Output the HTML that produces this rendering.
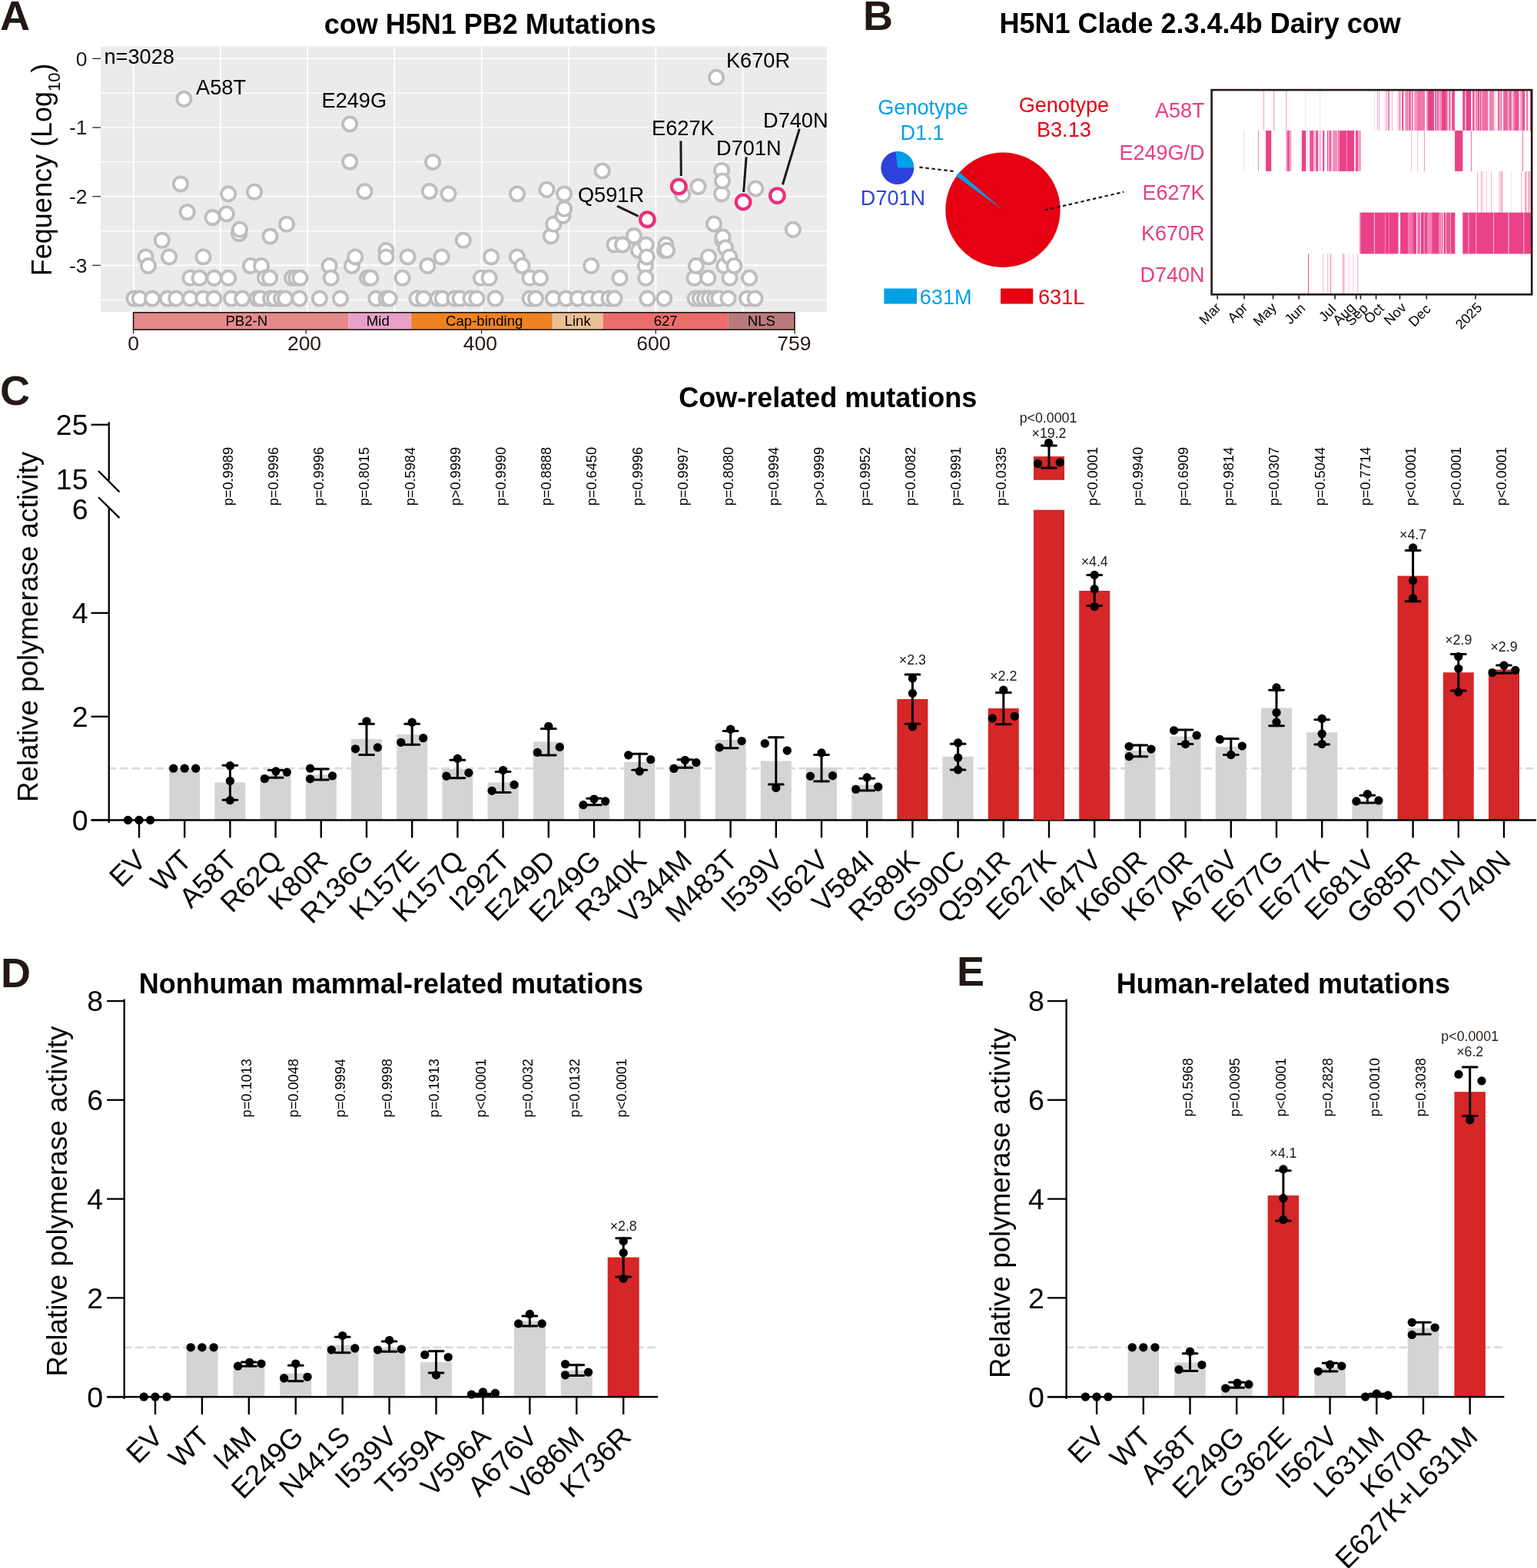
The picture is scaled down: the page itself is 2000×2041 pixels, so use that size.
<!DOCTYPE html>
<html><head><meta charset="utf-8"><title>Figure</title><style>
html,body{margin:0;padding:0;background:#fff;overflow:hidden;}
svg{display:block;}
text{font-family:"Liberation Sans",Arial,sans-serif;}
.lab{font-size:54px;font-weight:bold;fill:#231815;}
.ttl{font-size:36px;font-weight:bold;fill:#000;}
.tk{font-size:26.5px;fill:#231815;}
.yt{font-size:36.8px;fill:#000;}
.yta{font-size:36px;fill:#000;}
.al{font-size:27.2px;fill:#000;}
.tkx{font-size:26.5px;fill:#231815;}
.dm{font-size:18.6px;fill:#000;}
.pl{font-size:27.1px;}
.hl{font-size:27px;fill:#e83e82;}
.mt{font-size:18px;fill:#000;}
.yl{font-size:37.5px;fill:#000;}
.xl{font-size:36.6px;fill:#000;}
.mx{font-size:17.8px;fill:#231815;}
.pv{font-size:18.2px;fill:#000;}
</style></head>
<body><svg width="2000" height="2041" viewBox="0 0 2000 2041">
<rect width="2000" height="2041" fill="#fff"/>
<text x="0" y="38.9" class="lab">A</text>
<text x="637.7" y="43.5" class="ttl" text-anchor="middle">cow H5N1 PB2 Mutations</text>
<rect x="131" y="60.4" width="945.1" height="345.6" fill="#ebebeb"/>
<line x1="173.6" y1="60.4" x2="173.6" y2="406" stroke="#fff" stroke-width="1.7"/>
<line x1="286.87" y1="60.4" x2="286.87" y2="406" stroke="#fff" stroke-width="1.7"/>
<line x1="400.14" y1="60.4" x2="400.14" y2="406" stroke="#fff" stroke-width="1.7"/>
<line x1="513.41" y1="60.4" x2="513.41" y2="406" stroke="#fff" stroke-width="1.7"/>
<line x1="626.68" y1="60.4" x2="626.68" y2="406" stroke="#fff" stroke-width="1.7"/>
<line x1="739.95" y1="60.4" x2="739.95" y2="406" stroke="#fff" stroke-width="1.7"/>
<line x1="853.22" y1="60.4" x2="853.22" y2="406" stroke="#fff" stroke-width="1.7"/>
<line x1="966.49" y1="60.4" x2="966.49" y2="406" stroke="#fff" stroke-width="1.7"/>
<line x1="131" y1="76.3" x2="1076.1" y2="76.3" stroke="#fff" stroke-width="1.7"/>
<line x1="131" y1="166.0" x2="1076.1" y2="166.0" stroke="#fff" stroke-width="1.7"/>
<line x1="131" y1="255.7" x2="1076.1" y2="255.7" stroke="#fff" stroke-width="1.7"/>
<line x1="131" y1="345.4" x2="1076.1" y2="345.4" stroke="#fff" stroke-width="1.7"/>
<line x1="131" y1="121.2" x2="1076.1" y2="121.2" stroke="#fff" stroke-width="1.2"/>
<line x1="131" y1="210.9" x2="1076.1" y2="210.9" stroke="#fff" stroke-width="1.2"/>
<line x1="131" y1="300.6" x2="1076.1" y2="300.6" stroke="#fff" stroke-width="1.2"/>
<line x1="131" y1="390.3" x2="1076.1" y2="390.3" stroke="#fff" stroke-width="1.2"/>
<line x1="120.3" y1="76.3" x2="131" y2="76.3" stroke="#333" stroke-width="1.4"/>
<text x="113.5" y="85.6" class="tk" text-anchor="end">0</text>
<line x1="120.3" y1="166.0" x2="131" y2="166.0" stroke="#333" stroke-width="1.4"/>
<text x="113.5" y="175.3" class="tk" text-anchor="end">-1</text>
<line x1="120.3" y1="255.7" x2="131" y2="255.7" stroke="#333" stroke-width="1.4"/>
<text x="113.5" y="265" class="tk" text-anchor="end">-2</text>
<line x1="120.3" y1="345.4" x2="131" y2="345.4" stroke="#333" stroke-width="1.4"/>
<text x="113.5" y="354.7" class="tk" text-anchor="end">-3</text>
<text transform="translate(66.5,359.2) rotate(-90)" class="yta">Fequency (Log<tspan font-size="22" dy="11">10</tspan><tspan dy="-11">)</tspan></text>
<text x="135.5" y="82.7" class="al">n=3028</text>
<g fill="#fff" stroke="#bebebe" stroke-width="3.8">
<circle cx="174.5" cy="388.6" r="9.1"/>
<circle cx="181.7" cy="388.6" r="9.1"/>
<circle cx="189.5" cy="334.4" r="9.1"/>
<circle cx="193" cy="346" r="9.1"/>
<circle cx="198.1" cy="388.6" r="9.1"/>
<circle cx="210.8" cy="312.8" r="9.1"/>
<circle cx="217.9" cy="388.6" r="9.1"/>
<circle cx="220.1" cy="334.4" r="9.1"/>
<circle cx="229.2" cy="388.6" r="9.1"/>
<circle cx="235" cy="239.4" r="9.1"/>
<circle cx="239.4" cy="128.8" r="9.1"/>
<circle cx="243.7" cy="276.1" r="9.1"/>
<circle cx="247.4" cy="388.6" r="9.1"/>
<circle cx="247.5" cy="361.8" r="9.1"/>
<circle cx="259.6" cy="361.8" r="9.1"/>
<circle cx="264.3" cy="388.6" r="9.1"/>
<circle cx="264.4" cy="334.4" r="9.1"/>
<circle cx="276.6" cy="283.1" r="9.1"/>
<circle cx="278.5" cy="388.6" r="9.1"/>
<circle cx="278.7" cy="361.8" r="9.1"/>
<circle cx="294.8" cy="278.4" r="9.1"/>
<circle cx="297.1" cy="252.5" r="9.1"/>
<circle cx="297.1" cy="361.8" r="9.1"/>
<circle cx="301.1" cy="388.6" r="9.1"/>
<circle cx="311.1" cy="304.1" r="9.1"/>
<circle cx="312" cy="298.8" r="9.1"/>
<circle cx="315.3" cy="388.6" r="9.1"/>
<circle cx="326" cy="346" r="9.1"/>
<circle cx="331" cy="249.8" r="9.1"/>
<circle cx="334.5" cy="388.6" r="9.1"/>
<circle cx="338.9" cy="388.6" r="9.1"/>
<circle cx="340.1" cy="346" r="9.1"/>
<circle cx="345" cy="361.8" r="9.1"/>
<circle cx="351.1" cy="361.8" r="9.1"/>
<circle cx="351.5" cy="307.6" r="9.1"/>
<circle cx="352" cy="388.6" r="9.1"/>
<circle cx="357.2" cy="388.6" r="9.1"/>
<circle cx="366" cy="388.6" r="9.1"/>
<circle cx="371.2" cy="388.6" r="9.1"/>
<circle cx="373" cy="291.8" r="9.1"/>
<circle cx="380" cy="361.8" r="9.1"/>
<circle cx="385.2" cy="361.8" r="9.1"/>
<circle cx="389.6" cy="388.6" r="9.1"/>
<circle cx="390.5" cy="361.8" r="9.1"/>
<circle cx="415.9" cy="388.6" r="9.1"/>
<circle cx="428.6" cy="346" r="9.1"/>
<circle cx="430.7" cy="361.8" r="9.1"/>
<circle cx="443" cy="388.6" r="9.1"/>
<circle cx="455.2" cy="161.5" r="9.1"/>
<circle cx="455.2" cy="210.6" r="9.1"/>
<circle cx="457.9" cy="346" r="9.1"/>
<circle cx="462.2" cy="334.4" r="9.1"/>
<circle cx="474.5" cy="249.2" r="9.1"/>
<circle cx="478" cy="361.8" r="9.1"/>
<circle cx="482.4" cy="361.8" r="9.1"/>
<circle cx="489.4" cy="388.6" r="9.1"/>
<circle cx="502.5" cy="326" r="9.1"/>
<circle cx="502.5" cy="334.4" r="9.1"/>
<circle cx="502.5" cy="388.6" r="9.1"/>
<circle cx="506.6" cy="388.6" r="9.1"/>
<circle cx="523.6" cy="361.8" r="9.1"/>
<circle cx="530.5" cy="334.4" r="9.1"/>
<circle cx="542.5" cy="388.6" r="9.1"/>
<circle cx="551.2" cy="388.6" r="9.1"/>
<circle cx="556.4" cy="346" r="9.1"/>
<circle cx="558.8" cy="249.1" r="9.1"/>
<circle cx="563.1" cy="210.9" r="9.1"/>
<circle cx="569.6" cy="388.6" r="9.1"/>
<circle cx="574.6" cy="334.4" r="9.1"/>
<circle cx="575.7" cy="388.6" r="9.1"/>
<circle cx="583.5" cy="252.4" r="9.1"/>
<circle cx="591.5" cy="388.6" r="9.1"/>
<circle cx="598.5" cy="388.6" r="9.1"/>
<circle cx="602.9" cy="312.8" r="9.1"/>
<circle cx="612.5" cy="388.6" r="9.1"/>
<circle cx="620.4" cy="388.6" r="9.1"/>
<circle cx="625.9" cy="361.8" r="9.1"/>
<circle cx="636.6" cy="361.8" r="9.1"/>
<circle cx="639.1" cy="334.4" r="9.1"/>
<circle cx="644.5" cy="388.6" r="9.1"/>
<circle cx="672.9" cy="334.4" r="9.1"/>
<circle cx="673" cy="252.4" r="9.1"/>
<circle cx="679.5" cy="346" r="9.1"/>
<circle cx="689.5" cy="361.8" r="9.1"/>
<circle cx="689.5" cy="388.6" r="9.1"/>
<circle cx="697.1" cy="388.6" r="9.1"/>
<circle cx="703" cy="361.8" r="9.1"/>
<circle cx="711.5" cy="246.8" r="9.1"/>
<circle cx="716.9" cy="307.4" r="9.1"/>
<circle cx="719.9" cy="388.6" r="9.1"/>
<circle cx="720.3" cy="291.7" r="9.1"/>
<circle cx="732.4" cy="280.9" r="9.1"/>
<circle cx="734.2" cy="252.4" r="9.1"/>
<circle cx="734.2" cy="271.8" r="9.1"/>
<circle cx="736.5" cy="388.6" r="9.1"/>
<circle cx="751.9" cy="388.6" r="9.1"/>
<circle cx="766.8" cy="388.6" r="9.1"/>
<circle cx="769.2" cy="346" r="9.1"/>
<circle cx="779.4" cy="388.6" r="9.1"/>
<circle cx="783.7" cy="222.5" r="9.1"/>
<circle cx="792.5" cy="388.6" r="9.1"/>
<circle cx="799.5" cy="318.6" r="9.1"/>
<circle cx="799.5" cy="388.6" r="9.1"/>
<circle cx="806.5" cy="361.8" r="9.1"/>
<circle cx="810" cy="318.6" r="9.1"/>
<circle cx="824.9" cy="307.1" r="9.1"/>
<circle cx="831" cy="326" r="9.1"/>
<circle cx="839.7" cy="346" r="9.1"/>
<circle cx="840.3" cy="361.8" r="9.1"/>
<circle cx="840.6" cy="318.6" r="9.1"/>
<circle cx="841.7" cy="334.4" r="9.1"/>
<circle cx="842.4" cy="388.6" r="9.1"/>
<circle cx="864.2" cy="388.6" r="9.1"/>
<circle cx="865.1" cy="326" r="9.1"/>
<circle cx="866.5" cy="318.6" r="9.1"/>
<circle cx="867.9" cy="326" r="9.1"/>
<circle cx="888" cy="253.4" r="9.1"/>
<circle cx="903.5" cy="361.8" r="9.1"/>
<circle cx="904.6" cy="388.6" r="9.1"/>
<circle cx="905.8" cy="346" r="9.1"/>
<circle cx="908.5" cy="242.9" r="9.1"/>
<circle cx="910.8" cy="388.6" r="9.1"/>
<circle cx="916.9" cy="388.6" r="9.1"/>
<circle cx="921.3" cy="361.8" r="9.1"/>
<circle cx="922.1" cy="334.4" r="9.1"/>
<circle cx="923" cy="388.6" r="9.1"/>
<circle cx="929" cy="291.5" r="9.1"/>
<circle cx="930" cy="388.6" r="9.1"/>
<circle cx="932.1" cy="100.8" r="9.1"/>
<circle cx="935.3" cy="388.6" r="9.1"/>
<circle cx="939.1" cy="221.9" r="9.1"/>
<circle cx="939.1" cy="252.4" r="9.1"/>
<circle cx="940" cy="235.5" r="9.1"/>
<circle cx="940.3" cy="312.9" r="9.1"/>
<circle cx="940.5" cy="308.5" r="9.1"/>
<circle cx="942.3" cy="346" r="9.1"/>
<circle cx="944" cy="322.5" r="9.1"/>
<circle cx="947.5" cy="388.6" r="9.1"/>
<circle cx="949.3" cy="334.4" r="9.1"/>
<circle cx="949.5" cy="361.8" r="9.1"/>
<circle cx="955.4" cy="346" r="9.1"/>
<circle cx="972" cy="388.6" r="9.1"/>
<circle cx="975.1" cy="361.8" r="9.1"/>
<circle cx="982.5" cy="388.6" r="9.1"/>
<circle cx="983.3" cy="245.5" r="9.1"/>
<circle cx="1031.9" cy="298.8" r="9.1"/>
</g>
<g stroke="#231815" stroke-width="3">
<line x1="803" y1="268.2" x2="830.6" y2="281.3"/>
<line x1="885.9" y1="183.4" x2="886.3" y2="229"/>
<line x1="971.1" y1="204.4" x2="967.6" y2="250"/>
<line x1="1040.3" y1="167.6" x2="1018.4" y2="240.3"/>
</g>
<g fill="#fff" stroke="#e8307c" stroke-width="4.3">
<circle cx="842.4" cy="285.7" r="9.3"/>
<circle cx="883.3" cy="242.9" r="9.3"/>
<circle cx="967.1" cy="263" r="9.3"/>
<circle cx="1011.4" cy="254.6" r="9.3"/>
</g>
<text x="255.1" y="122.6" class="al">A58T</text>
<text x="418.5" y="140.1" class="al">E249G</text>
<text x="751.9" y="263" class="al">Q591R</text>
<text x="848.1" y="176.4" class="al">E627K</text>
<text x="932.1" y="201.8" class="al">D701N</text>
<text x="993" y="165.9" class="al">D740N</text>
<text x="944.9" y="88" class="al">K670R</text>
<rect x="173.6" y="406.8" width="279.97" height="22.3" fill="#e58a8a"/>
<text x="320.8" y="424.4" class="dm" text-anchor="middle">PB2-N</text>
<rect x="453.57" y="406.8" width="81.61" height="22.3" fill="#e8a0c8"/>
<text x="491.8" y="424.4" class="dm" text-anchor="middle">Mid</text>
<rect x="535.19" y="406.8" width="183.63" height="22.3" fill="#ef8220"/>
<text x="630.2" y="424.4" class="dm" text-anchor="middle">Cap-binding</text>
<rect x="718.81" y="406.8" width="65.74" height="22.3" fill="#ebbf94"/>
<text x="751.68" y="424.4" class="dm" text-anchor="middle">Link</text>
<rect x="784.56" y="406.8" width="163.22" height="22.3" fill="#ea6d6d"/>
<text x="866.17" y="424.4" class="dm" text-anchor="middle">627</text>
<rect x="947.78" y="406.8" width="86.15" height="22.3" fill="#b87a7c"/>
<text x="990.85" y="424.4" class="dm" text-anchor="middle">NLS</text>
<rect x="173.6" y="406.8" width="860.33" height="22.3" fill="none" stroke="#231815" stroke-width="1.6"/>
<line x1="173.6" y1="429" x2="173.6" y2="434.5" stroke="#333" stroke-width="1.4"/>
<text x="173.6" y="455.9" class="tkx" text-anchor="middle">0</text>
<line x1="398.2" y1="429" x2="398.2" y2="434.5" stroke="#333" stroke-width="1.4"/>
<text x="396" y="455.9" class="tkx" text-anchor="middle">200</text>
<line x1="626.6" y1="429" x2="626.6" y2="434.5" stroke="#333" stroke-width="1.4"/>
<text x="624.9" y="455.9" class="tkx" text-anchor="middle">400</text>
<line x1="853.2" y1="429" x2="853.2" y2="434.5" stroke="#333" stroke-width="1.4"/>
<text x="850.4" y="455.9" class="tkx" text-anchor="middle">600</text>
<line x1="1034.2" y1="429" x2="1034.2" y2="434.5" stroke="#333" stroke-width="1.4"/>
<text x="1033.3" y="455.9" class="tkx" text-anchor="middle">759</text>
<text x="1123" y="38.9" class="lab">B</text>
<text x="1561.6" y="43.4" class="ttl" text-anchor="middle">H5N1 Clade 2.3.4.4b Dairy cow</text>
<circle cx="1305" cy="273.3" r="74.7" fill="#e60012"/>
<path d="M1304.5,273 L1244.07,229.09 A74.7,74.7 0 0 1 1248.12,223.99 Z" fill="#00a0e9"/>
<circle cx="1167.8" cy="218.6" r="21.5" fill="#2e41dc"/>
<path d="M1167.8,218.6 L1165.55,197.22 A21.5,21.5 0 0 1 1189.3,218.6 Z" fill="#00a0e9"/>
<g stroke="#231815" stroke-width="2.2" stroke-dasharray="4.5,3.5" fill="none">
<line x1="1196.4" y1="217.6" x2="1242.1" y2="223.1"/>
<line x1="1359.5" y1="273.5" x2="1462.4" y2="249.8"/>
</g>
<g class="pl">
<text x="1201" y="148.6" text-anchor="middle" fill="#00a0e9">Genotype</text>
<text x="1200" y="181.7" text-anchor="middle" fill="#00a0e9">D1.1</text>
<text x="1384.4" y="145.9" text-anchor="middle" fill="#e60012">Genotype</text>
<text x="1384.4" y="177.7" text-anchor="middle" fill="#e60012">B3.13</text>
<text x="1162" y="266.8" text-anchor="middle" fill="#2e41dc">D701N</text>
<rect x="1150.4" y="375.5" width="42.6" height="20" fill="#00a0e9"/>
<text x="1196.8" y="395.5" fill="#00a0e9">631M</text>
<rect x="1302" y="375.5" width="42.2" height="20" fill="#e60012"/>
<text x="1351" y="395.5" fill="#e60012">631L</text>
</g>
<rect x="1644.1" y="116.2" width="0.95" height="53.7" fill="#f4a0c4"/>
<rect x="1657.2" y="116.2" width="0.95" height="53.7" fill="#f28db8"/>
<rect x="1673.3" y="116.2" width="0.95" height="53.7" fill="#f28db8"/>
<rect x="1698.4" y="116.2" width="0.85" height="53.7" fill="#fbd9e7"/>
<rect x="1717.4" y="116.2" width="0.85" height="53.7" fill="#fbd9e7"/>
<rect x="1788.2" y="116.2" width="0.95" height="53.7" fill="#fbd9e7"/>
<rect x="1792.1" y="116.2" width="0.95" height="53.7" fill="#f4a0c4"/>
<rect x="1794.3" y="116.2" width="0.95" height="53.7" fill="#f4a0c4"/>
<rect x="1802.1" y="116.2" width="0.95" height="53.7" fill="#f9c6dc"/>
<rect x="1804" y="116.2" width="0.95" height="53.7" fill="#f28db8"/>
<rect x="1806.4" y="116.2" width="1.45" height="53.7" fill="#ec5495"/>
<rect x="1811.2" y="116.2" width="0.95" height="53.7" fill="#f7b3d0"/>
<rect x="1819.1" y="116.2" width="0.95" height="53.7" fill="#f4a0c4"/>
<rect x="1821.1" y="116.2" width="1.05" height="53.7" fill="#ea4189"/>
<rect x="1824" y="116.2" width="2.35" height="53.7" fill="#ec5495"/>
<rect x="1828.2" y="116.2" width="3.15" height="53.7" fill="#f396be"/>
<rect x="1831" y="116.2" width="1.35" height="53.7" fill="#ee67a1"/>
<rect x="1833" y="116.2" width="3.15" height="53.7" fill="#ee67a1"/>
<rect x="1837" y="116.2" width="1.65" height="53.7" fill="#ee67a1"/>
<rect x="1840.2" y="116.2" width="3.85" height="53.7" fill="#f396be"/>
<rect x="1843.7" y="116.2" width="2.85" height="53.7" fill="#f184b2"/>
<rect x="1846.2" y="116.2" width="0.95" height="53.7" fill="#ea4189"/>
<rect x="1846.8" y="116.2" width="7.25" height="53.7" fill="#f07aac"/>
<rect x="1856.3" y="116.2" width="2.15" height="53.7" fill="#f28db8"/>
<rect x="1858.1" y="116.2" width="7.95" height="53.7" fill="#ea4189"/>
<rect x="1867.3" y="116.2" width="1.95" height="53.7" fill="#ea4189"/>
<rect x="1870.1" y="116.2" width="2.25" height="53.7" fill="#ec5495"/>
<rect x="1873" y="116.2" width="3.45" height="53.7" fill="#f28db8"/>
<rect x="1876.1" y="116.2" width="5.75" height="53.7" fill="#ea4189"/>
<rect x="1881.5" y="116.2" width="2.25" height="53.7" fill="#ee67a1"/>
<rect x="1885.3" y="116.2" width="2.15" height="53.7" fill="#ec5495"/>
<rect x="1889" y="116.2" width="4.15" height="53.7" fill="#ec5495"/>
<rect x="1903.3" y="116.2" width="3.15" height="53.7" fill="#ea4189"/>
<rect x="1906.1" y="116.2" width="2.15" height="53.7" fill="#f7b3d0"/>
<rect x="1907.9" y="116.2" width="6.25" height="53.7" fill="#ea4189"/>
<rect x="1916" y="116.2" width="2.45" height="53.7" fill="#ec5495"/>
<rect x="1918.1" y="116.2" width="2.25" height="53.7" fill="#f7b3d0"/>
<rect x="1920.9" y="116.2" width="1.55" height="53.7" fill="#ec5495"/>
<rect x="1923" y="116.2" width="2.25" height="53.7" fill="#ec5495"/>
<rect x="1925.8" y="116.2" width="1.65" height="53.7" fill="#ea4189"/>
<rect x="1928.3" y="116.2" width="8.05" height="53.7" fill="#ef70a6"/>
<rect x="1937.9" y="116.2" width="6.15" height="53.7" fill="#f184b2"/>
<rect x="1944.4" y="116.2" width="1.85" height="53.7" fill="#fbd9e7"/>
<rect x="1949" y="116.2" width="1.55" height="53.7" fill="#ea4189"/>
<rect x="1950.2" y="116.2" width="4.65" height="53.7" fill="#f396be"/>
<rect x="1956.1" y="116.2" width="6.25" height="53.7" fill="#ee67a1"/>
<rect x="1963.2" y="116.2" width="4.05" height="53.7" fill="#ee67a1"/>
<rect x="1968.1" y="116.2" width="2.55" height="53.7" fill="#f4a0c4"/>
<rect x="1970.3" y="116.2" width="6.25" height="53.7" fill="#ec5495"/>
<rect x="1978" y="116.2" width="3.15" height="53.7" fill="#f4a0c4"/>
<rect x="1980.8" y="116.2" width="3.45" height="53.7" fill="#ec5495"/>
<rect x="1986" y="116.2" width="2.25" height="53.7" fill="#f07aac"/>
<rect x="1991" y="116.2" width="1.75" height="53.7" fill="#ec5495"/>
<rect x="1618.3" y="169.9" width="0.85" height="53" fill="#f9c6dc"/>
<rect x="1637.1" y="169.9" width="0.95" height="53" fill="#f07aac"/>
<rect x="1647.1" y="169.9" width="7.15" height="53" fill="#ea4189"/>
<rect x="1672.3" y="169.9" width="0.85" height="53" fill="#fbd9e7"/>
<rect x="1674.1" y="169.9" width="1.65" height="53" fill="#ec5495"/>
<rect x="1676.1" y="169.9" width="2.15" height="53" fill="#ea4189"/>
<rect x="1679.2" y="169.9" width="0.95" height="53" fill="#ee67a1"/>
<rect x="1693.9" y="169.9" width="5.45" height="53" fill="#ea4189"/>
<rect x="1701.1" y="169.9" width="0.85" height="53" fill="#fad0e2"/>
<rect x="1704.2" y="169.9" width="5.25" height="53" fill="#ec5495"/>
<rect x="1710" y="169.9" width="1.05" height="53" fill="#f4a0c4"/>
<rect x="1712" y="169.9" width="3.25" height="53" fill="#ec5495"/>
<rect x="1717.1" y="169.9" width="1.15" height="53" fill="#f07aac"/>
<rect x="1721.2" y="169.9" width="2.15" height="53" fill="#ea4189"/>
<rect x="1727" y="169.9" width="1.25" height="53" fill="#ea4189"/>
<rect x="1729.2" y="169.9" width="3.45" height="53" fill="#ee67a1"/>
<rect x="1734.1" y="169.9" width="6.15" height="53" fill="#f28db8"/>
<rect x="1741" y="169.9" width="1.45" height="53" fill="#ec5495"/>
<rect x="1742.9" y="169.9" width="9.45" height="53" fill="#ea4189"/>
<rect x="1752" y="169.9" width="1.25" height="53" fill="#f4a0c4"/>
<rect x="1752.9" y="169.9" width="9.25" height="53" fill="#ea4189"/>
<rect x="1763.8" y="169.9" width="3.65" height="53" fill="#ec5495"/>
<rect x="1767.1" y="169.9" width="3.95" height="53" fill="#f4a0c4"/>
<rect x="1836.2" y="169.9" width="0.95" height="53" fill="#f8bcd6"/>
<rect x="1844.1" y="169.9" width="0.95" height="53" fill="#f7b3d0"/>
<rect x="1852.9" y="169.9" width="0.95" height="53" fill="#f28db8"/>
<rect x="1893.1" y="169.9" width="10.25" height="53" fill="#ea4189"/>
<rect x="1914.1" y="169.9" width="0.95" height="53" fill="#ee67a1"/>
<rect x="1981.1" y="169.9" width="0.95" height="53" fill="#ee67a1"/>
<rect x="1922.1" y="222.9" width="0.95" height="53.7" fill="#f4a0c4"/>
<rect x="1927.1" y="222.9" width="0.95" height="53.7" fill="#f28db8"/>
<rect x="1929.2" y="222.9" width="0.95" height="53.7" fill="#f9c6dc"/>
<rect x="1934.2" y="222.9" width="0.95" height="53.7" fill="#f9c6dc"/>
<rect x="1940" y="222.9" width="0.95" height="53.7" fill="#f7b3d0"/>
<rect x="1950.2" y="222.9" width="5.05" height="53.7" fill="#fad0e2"/>
<rect x="1953.9" y="222.9" width="1.05" height="53.7" fill="#f28db8"/>
<rect x="1966.4" y="222.9" width="0.85" height="53.7" fill="#fbd9e7"/>
<rect x="1979.3" y="222.9" width="0.95" height="53.7" fill="#f4a0c4"/>
<rect x="1983.9" y="222.9" width="2.85" height="53.7" fill="#f6aaca"/>
<rect x="1988.2" y="222.9" width="3.15" height="53.7" fill="#f6aaca"/>
<rect x="1769" y="276.6" width="2.05" height="53.8" fill="#f28db8"/>
<rect x="1770.7" y="276.6" width="17.55" height="53.8" fill="#ea4189"/>
<rect x="1787.9" y="276.6" width="1.35" height="53.8" fill="#f9c6dc"/>
<rect x="1788.9" y="276.6" width="13.75" height="53.8" fill="#ea4189"/>
<rect x="1802.3" y="276.6" width="1.05" height="53.8" fill="#f28db8"/>
<rect x="1803" y="276.6" width="4.45" height="53.8" fill="#ea4189"/>
<rect x="1807.1" y="276.6" width="1.05" height="53.8" fill="#f07aac"/>
<rect x="1807.8" y="276.6" width="11.75" height="53.8" fill="#ea4189"/>
<rect x="1822.1" y="276.6" width="10.35" height="53.8" fill="#ea4189"/>
<rect x="1832.1" y="276.6" width="3.25" height="53.8" fill="#f07aac"/>
<rect x="1835" y="276.6" width="4.35" height="53.8" fill="#ef70a6"/>
<rect x="1839" y="276.6" width="4.05" height="53.8" fill="#ea4189"/>
<rect x="1844.2" y="276.6" width="4.05" height="53.8" fill="#ef70a6"/>
<rect x="1849" y="276.6" width="3.95" height="53.8" fill="#ea4189"/>
<rect x="1852.6" y="276.6" width="1.85" height="53.8" fill="#f28db8"/>
<rect x="1854.1" y="276.6" width="3.35" height="53.8" fill="#ea4189"/>
<rect x="1857.1" y="276.6" width="6.15" height="53.8" fill="#f184b2"/>
<rect x="1862.9" y="276.6" width="1.45" height="53.8" fill="#ee67a1"/>
<rect x="1864" y="276.6" width="8.85" height="53.8" fill="#ea4189"/>
<rect x="1872.5" y="276.6" width="2.55" height="53.8" fill="#f28db8"/>
<rect x="1874.7" y="276.6" width="3.25" height="53.8" fill="#f28db8"/>
<rect x="1878.8" y="276.6" width="2.55" height="53.8" fill="#ea4189"/>
<rect x="1882.1" y="276.6" width="5.45" height="53.8" fill="#ec5495"/>
<rect x="1888" y="276.6" width="5.35" height="53.8" fill="#ea4189"/>
<rect x="1903.3" y="276.6" width="7.05" height="53.8" fill="#ea4189"/>
<rect x="1910" y="276.6" width="2.35" height="53.8" fill="#f07aac"/>
<rect x="1912" y="276.6" width="8.35" height="53.8" fill="#ea4189"/>
<rect x="1920" y="276.6" width="1.85" height="53.8" fill="#f28db8"/>
<rect x="1921.5" y="276.6" width="21.45" height="53.8" fill="#ea4189"/>
<rect x="1943.6" y="276.6" width="18.75" height="53.8" fill="#ea4189"/>
<rect x="1962" y="276.6" width="2.35" height="53.8" fill="#f28db8"/>
<rect x="1964" y="276.6" width="18.55" height="53.8" fill="#ea4189"/>
<rect x="1983.2" y="276.6" width="9.55" height="53.8" fill="#ea4189"/>
<rect x="1702.1" y="330.4" width="0.95" height="53.7" fill="#ea4189"/>
<rect x="1721.3" y="330.4" width="0.85" height="53.7" fill="#f4a0c4"/>
<rect x="1727.3" y="330.4" width="0.85" height="53.7" fill="#f4a0c4"/>
<rect x="1730.8" y="330.4" width="1.35" height="53.7" fill="#f28db8"/>
<rect x="1747.3" y="330.4" width="1.35" height="53.7" fill="#f28db8"/>
<rect x="1749.5" y="330.4" width="0.85" height="53.7" fill="#f7b3d0"/>
<rect x="1754.6" y="330.4" width="0.85" height="53.7" fill="#f8bcd6"/>
<rect x="1760.2" y="330.4" width="0.85" height="53.7" fill="#f9c6dc"/>
<rect x="1766.3" y="330.4" width="0.95" height="53.7" fill="#f4a0c4"/>
<rect x="1576.6" y="117.1" width="416.6" height="266.2" fill="none" stroke="#231815" stroke-width="2.6"/>
<text x="1567.5" y="153.3" class="hl" text-anchor="end">A58T</text>
<text x="1567.5" y="208" class="hl" text-anchor="end">E249G/D</text>
<text x="1567.5" y="259.8" class="hl" text-anchor="end">E627K</text>
<text x="1567.5" y="313" class="hl" text-anchor="end">K670R</text>
<text x="1567.5" y="367" class="hl" text-anchor="end">D740N</text>
<line x1="1584.2" y1="384" x2="1584.2" y2="389.5" stroke="#231815" stroke-width="1.6"/>
<text transform="translate(1589.7,401.5) rotate(-45)" class="mt" text-anchor="end">Mar</text>
<line x1="1619" y1="384" x2="1619" y2="389.5" stroke="#231815" stroke-width="1.6"/>
<text transform="translate(1624.5,401.5) rotate(-45)" class="mt" text-anchor="end">Apr</text>
<line x1="1656.6" y1="384" x2="1656.6" y2="389.5" stroke="#231815" stroke-width="1.6"/>
<text transform="translate(1662.1,401.5) rotate(-45)" class="mt" text-anchor="end">May</text>
<line x1="1690.1" y1="384" x2="1690.1" y2="389.5" stroke="#231815" stroke-width="1.6"/>
<text transform="translate(1699.6,402.5) rotate(-45)" class="mt" text-anchor="end">Jun</text>
<line x1="1737.2" y1="384" x2="1737.2" y2="389.5" stroke="#231815" stroke-width="1.6"/>
<text transform="translate(1739.7,403.5) rotate(-45)" class="mt" text-anchor="end">Jul</text>
<line x1="1764.8" y1="384" x2="1764.8" y2="389.5" stroke="#231815" stroke-width="1.6"/>
<text transform="translate(1764.3,401.5) rotate(-45)" class="mt" text-anchor="end">Aug</text>
<line x1="1770.5" y1="384" x2="1770.5" y2="389.5" stroke="#231815" stroke-width="1.6"/>
<text transform="translate(1781,402.5) rotate(-45)" class="mt" text-anchor="end">Sep</text>
<line x1="1790.6" y1="384" x2="1790.6" y2="389.5" stroke="#231815" stroke-width="1.6"/>
<text transform="translate(1802.1,402.5) rotate(-45)" class="mt" text-anchor="end">Oct</text>
<line x1="1821.5" y1="384" x2="1821.5" y2="389.5" stroke="#231815" stroke-width="1.6"/>
<text transform="translate(1831,401.5) rotate(-45)" class="mt" text-anchor="end">Nov</text>
<line x1="1856.3" y1="384" x2="1856.3" y2="389.5" stroke="#231815" stroke-width="1.6"/>
<text transform="translate(1862.8,403.5) rotate(-45)" class="mt" text-anchor="end">Dec</text>
<line x1="1920" y1="384" x2="1920" y2="389.5" stroke="#231815" stroke-width="1.6"/>
<text transform="translate(1929.5,401.5) rotate(-45)" class="mt" text-anchor="end">2025</text>
<text x="0" y="526.8" class="lab">C</text>
<text x="1077.2" y="529.7" class="ttl" text-anchor="middle">Cow-related mutations</text>
<line x1="141.75" y1="1000.2" x2="1999" y2="1000.2" stroke="#d9dbda" stroke-width="2.8" stroke-dasharray="8.2,7.3" stroke-linecap="round"/>
<rect x="220.2" y="1000.2" width="40" height="67.3" fill="#d4d4d4"/>
<rect x="279.4" y="1018.37" width="40" height="49.13" fill="#d4d4d4"/>
<rect x="338.6" y="1008.28" width="40" height="59.22" fill="#d4d4d4"/>
<rect x="397.8" y="1008.41" width="40" height="59.09" fill="#d4d4d4"/>
<rect x="457" y="961.91" width="40" height="105.59" fill="#d4d4d4"/>
<rect x="516.2" y="956.12" width="40" height="111.38" fill="#d4d4d4"/>
<rect x="575.4" y="1001.01" width="40" height="66.49" fill="#d4d4d4"/>
<rect x="634.6" y="1018.37" width="40" height="49.13" fill="#d4d4d4"/>
<rect x="693.8" y="965.54" width="40" height="101.96" fill="#d4d4d4"/>
<rect x="753" y="1046.97" width="40" height="20.53" fill="#d4d4d4"/>
<rect x="812.2" y="991.85" width="40" height="75.65" fill="#d4d4d4"/>
<rect x="871.4" y="994.75" width="40" height="72.75" fill="#d4d4d4"/>
<rect x="930.6" y="962.98" width="40" height="104.52" fill="#d4d4d4"/>
<rect x="989.8" y="990.58" width="40" height="76.92" fill="#d4d4d4"/>
<rect x="1049" y="999.26" width="40" height="68.24" fill="#d4d4d4"/>
<rect x="1108.2" y="1021.6" width="40" height="45.9" fill="#d4d4d4"/>
<rect x="1167.4" y="910.02" width="40" height="157.48" fill="#d52628"/>
<rect x="1226.6" y="984.79" width="40" height="82.71" fill="#d4d4d4"/>
<rect x="1285.8" y="922.06" width="40" height="145.44" fill="#d52628"/>
<rect x="1404.2" y="769.02" width="40" height="298.48" fill="#d52628"/>
<rect x="1463.4" y="976.91" width="40" height="90.59" fill="#d4d4d4"/>
<rect x="1522.6" y="958.61" width="40" height="108.89" fill="#d4d4d4"/>
<rect x="1581.8" y="972.2" width="40" height="95.3" fill="#d4d4d4"/>
<rect x="1641" y="921.46" width="40" height="146.04" fill="#d4d4d4"/>
<rect x="1700.2" y="953.36" width="40" height="114.14" fill="#d4d4d4"/>
<rect x="1759.4" y="1044.42" width="40" height="23.08" fill="#d4d4d4"/>
<rect x="1818.6" y="749.57" width="40" height="317.93" fill="#d52628"/>
<rect x="1877.8" y="875.29" width="40" height="192.21" fill="#d52628"/>
<rect x="1937" y="871.52" width="40" height="195.98" fill="#d52628"/>
<line x1="118.6" y1="1067.5" x2="1999" y2="1067.5" stroke="#000" stroke-width="2.5"/>
<line x1="181" y1="1067.5" x2="181" y2="1090.5" stroke="#000" stroke-width="2.4"/>
<circle cx="166.5" cy="1067.5" r="5.65" fill="#000"/>
<circle cx="181" cy="1067.5" r="5.65" fill="#000"/>
<circle cx="195.5" cy="1067.5" r="5.65" fill="#000"/>
<text transform="translate(192,1122) rotate(-45)" class="xl" text-anchor="end">EV</text>
<line x1="240.2" y1="1067.5" x2="240.2" y2="1090.5" stroke="#000" stroke-width="2.4"/>
<circle cx="225.7" cy="1000.2" r="5.65" fill="#000"/>
<circle cx="240.2" cy="1000.2" r="5.65" fill="#000"/>
<circle cx="254.7" cy="1000.2" r="5.65" fill="#000"/>
<text transform="translate(251.2,1122) rotate(-45)" class="xl" text-anchor="end">WT</text>
<line x1="299.4" y1="1067.5" x2="299.4" y2="1090.5" stroke="#000" stroke-width="2.4"/>
<g stroke="#000" stroke-width="3" stroke-linecap="round"><line x1="299.4" y1="996.16" x2="299.4" y2="1041.25"/><line x1="290" y1="996.16" x2="308.8" y2="996.16"/><line x1="290" y1="1041.25" x2="308.8" y2="1041.25"/></g>
<circle cx="299.4" cy="996.63" r="5.65" fill="#000"/>
<circle cx="299.4" cy="1016.49" r="5.65" fill="#000"/>
<circle cx="299.4" cy="1041.72" r="5.65" fill="#000"/>
<text transform="translate(302.8,658.3) rotate(-90)" class="pv">p=0.9989</text>
<text transform="translate(310.4,1122) rotate(-45)" class="xl" text-anchor="end">A58T</text>
<line x1="358.6" y1="1067.5" x2="358.6" y2="1090.5" stroke="#000" stroke-width="2.4"/>
<g stroke="#000" stroke-width="3" stroke-linecap="round"><line x1="358.6" y1="1002.62" x2="358.6" y2="1012.31"/><line x1="349.2" y1="1002.62" x2="368" y2="1002.62"/><line x1="349.2" y1="1012.31" x2="368" y2="1012.31"/></g>
<circle cx="344.4" cy="1013.66" r="5.65" fill="#000"/>
<circle cx="358.9" cy="1003.9" r="5.65" fill="#000"/>
<circle cx="373.3" cy="1005.18" r="5.65" fill="#000"/>
<text transform="translate(362,658.3) rotate(-90)" class="pv">p=0.9996</text>
<text transform="translate(369.6,1122) rotate(-45)" class="xl" text-anchor="end">R62Q</text>
<line x1="417.8" y1="1067.5" x2="417.8" y2="1090.5" stroke="#000" stroke-width="2.4"/>
<g stroke="#000" stroke-width="3" stroke-linecap="round"><line x1="417.8" y1="1001.01" x2="417.8" y2="1015.01"/><line x1="408.4" y1="1001.01" x2="427.2" y2="1001.01"/><line x1="408.4" y1="1015.01" x2="427.2" y2="1015.01"/></g>
<circle cx="403.6" cy="1000.2" r="5.65" fill="#000"/>
<circle cx="403.6" cy="1013.79" r="5.65" fill="#000"/>
<circle cx="432.5" cy="1009.96" r="5.65" fill="#000"/>
<text transform="translate(421.2,658.3) rotate(-90)" class="pv">p=0.9996</text>
<text transform="translate(428.8,1122) rotate(-45)" class="xl" text-anchor="end">K80R</text>
<line x1="477" y1="1067.5" x2="477" y2="1090.5" stroke="#000" stroke-width="2.4"/>
<g stroke="#000" stroke-width="3" stroke-linecap="round"><line x1="477" y1="942.19" x2="477" y2="982.43"/><line x1="467.6" y1="942.19" x2="486.4" y2="942.19"/><line x1="467.6" y1="982.43" x2="486.4" y2="982.43"/></g>
<circle cx="477" cy="938.82" r="5.65" fill="#000"/>
<circle cx="462.5" cy="974.83" r="5.65" fill="#000"/>
<circle cx="491.4" cy="972.94" r="5.65" fill="#000"/>
<text transform="translate(480.4,658.3) rotate(-90)" class="pv">p=0.8015</text>
<text transform="translate(488,1122) rotate(-45)" class="xl" text-anchor="end">R136G</text>
<line x1="536.2" y1="1067.5" x2="536.2" y2="1090.5" stroke="#000" stroke-width="2.4"/>
<g stroke="#000" stroke-width="3" stroke-linecap="round"><line x1="536.2" y1="942.19" x2="536.2" y2="969.17"/><line x1="526.8" y1="942.19" x2="545.6" y2="942.19"/><line x1="526.8" y1="969.17" x2="545.6" y2="969.17"/></g>
<circle cx="536.2" cy="940.24" r="5.65" fill="#000"/>
<circle cx="521.8" cy="966.28" r="5.65" fill="#000"/>
<circle cx="550.7" cy="960.63" r="5.65" fill="#000"/>
<text transform="translate(539.6,658.3) rotate(-90)" class="pv">p=0.5984</text>
<text transform="translate(547.2,1122) rotate(-45)" class="xl" text-anchor="end">K157E</text>
<line x1="595.4" y1="1067.5" x2="595.4" y2="1090.5" stroke="#000" stroke-width="2.4"/>
<g stroke="#000" stroke-width="3" stroke-linecap="round"><line x1="595.4" y1="989.23" x2="595.4" y2="1012.85"/><line x1="586" y1="989.23" x2="604.8" y2="989.23"/><line x1="586" y1="1012.85" x2="604.8" y2="1012.85"/></g>
<circle cx="595.4" cy="987.41" r="5.65" fill="#000"/>
<circle cx="580.9" cy="1010.23" r="5.65" fill="#000"/>
<circle cx="609.9" cy="1005.99" r="5.65" fill="#000"/>
<text transform="translate(598.8,658.3) rotate(-90)" class="pv">p>0.9999</text>
<text transform="translate(606.4,1122) rotate(-45)" class="xl" text-anchor="end">K157Q</text>
<line x1="654.6" y1="1067.5" x2="654.6" y2="1090.5" stroke="#000" stroke-width="2.4"/>
<g stroke="#000" stroke-width="3" stroke-linecap="round"><line x1="654.6" y1="1004.44" x2="654.6" y2="1031.49"/><line x1="645.2" y1="1004.44" x2="664" y2="1004.44"/><line x1="645.2" y1="1031.49" x2="664" y2="1031.49"/></g>
<circle cx="654.6" cy="1002.62" r="5.65" fill="#000"/>
<circle cx="640.1" cy="1029.34" r="5.65" fill="#000"/>
<circle cx="669.1" cy="1021.47" r="5.65" fill="#000"/>
<text transform="translate(658,658.3) rotate(-90)" class="pv">p=0.9990</text>
<text transform="translate(665.6,1122) rotate(-45)" class="xl" text-anchor="end">I292T</text>
<line x1="713.8" y1="1067.5" x2="713.8" y2="1090.5" stroke="#000" stroke-width="2.4"/>
<g stroke="#000" stroke-width="3" stroke-linecap="round"><line x1="713.8" y1="948.51" x2="713.8" y2="982.9"/><line x1="704.4" y1="948.51" x2="723.2" y2="948.51"/><line x1="704.4" y1="982.9" x2="723.2" y2="982.9"/></g>
<circle cx="713.8" cy="945.35" r="5.65" fill="#000"/>
<circle cx="699.3" cy="979.47" r="5.65" fill="#000"/>
<circle cx="728.3" cy="972.41" r="5.65" fill="#000"/>
<text transform="translate(717.2,658.3) rotate(-90)" class="pv">p=0.8888</text>
<text transform="translate(724.8,1122) rotate(-45)" class="xl" text-anchor="end">E249D</text>
<line x1="773" y1="1067.5" x2="773" y2="1090.5" stroke="#000" stroke-width="2.4"/>
<g stroke="#000" stroke-width="3" stroke-linecap="round"><line x1="773" y1="1039.3" x2="773" y2="1047.71"/><line x1="763.6" y1="1039.3" x2="782.4" y2="1039.3"/><line x1="763.6" y1="1047.71" x2="782.4" y2="1047.71"/></g>
<circle cx="773" cy="1040.11" r="5.65" fill="#000"/>
<circle cx="759" cy="1047.71" r="5.65" fill="#000"/>
<circle cx="787.7" cy="1043" r="5.65" fill="#000"/>
<text transform="translate(776.4,658.3) rotate(-90)" class="pv">p=0.6450</text>
<text transform="translate(784,1122) rotate(-45)" class="xl" text-anchor="end">E249G</text>
<line x1="832.2" y1="1067.5" x2="832.2" y2="1090.5" stroke="#000" stroke-width="2.4"/>
<g stroke="#000" stroke-width="3" stroke-linecap="round"><line x1="832.2" y1="981.36" x2="832.2" y2="1002.35"/><line x1="822.8" y1="981.36" x2="841.6" y2="981.36"/><line x1="822.8" y1="1002.35" x2="841.6" y2="1002.35"/></g>
<circle cx="817.7" cy="982.9" r="5.65" fill="#000"/>
<circle cx="832.2" cy="1003.9" r="5.65" fill="#000"/>
<circle cx="846.7" cy="988.69" r="5.65" fill="#000"/>
<text transform="translate(835.6,658.3) rotate(-90)" class="pv">p=0.9996</text>
<text transform="translate(843.2,1122) rotate(-45)" class="xl" text-anchor="end">R340K</text>
<line x1="891.4" y1="1067.5" x2="891.4" y2="1090.5" stroke="#000" stroke-width="2.4"/>
<g stroke="#000" stroke-width="3" stroke-linecap="round"><line x1="891.4" y1="988.69" x2="891.4" y2="999.19"/><line x1="882" y1="988.69" x2="900.8" y2="988.69"/><line x1="882" y1="999.19" x2="900.8" y2="999.19"/></g>
<circle cx="891.4" cy="989.43" r="5.65" fill="#000"/>
<circle cx="876.9" cy="1000.47" r="5.65" fill="#000"/>
<circle cx="905.9" cy="992.6" r="5.65" fill="#000"/>
<text transform="translate(894.8,658.3) rotate(-90)" class="pv">p=0.9997</text>
<text transform="translate(902.4,1122) rotate(-45)" class="xl" text-anchor="end">V344M</text>
<line x1="950.6" y1="1067.5" x2="950.6" y2="1090.5" stroke="#000" stroke-width="2.4"/>
<g stroke="#000" stroke-width="3" stroke-linecap="round"><line x1="950.6" y1="951.41" x2="950.6" y2="973.75"/><line x1="941.2" y1="951.41" x2="960" y2="951.41"/><line x1="941.2" y1="973.75" x2="960" y2="973.75"/></g>
<circle cx="950.6" cy="949.25" r="5.65" fill="#000"/>
<circle cx="936.1" cy="972.94" r="5.65" fill="#000"/>
<circle cx="965.1" cy="964.53" r="5.65" fill="#000"/>
<text transform="translate(954,658.3) rotate(-90)" class="pv">p=0.8080</text>
<text transform="translate(961.6,1122) rotate(-45)" class="xl" text-anchor="end">M483T</text>
<line x1="1009.8" y1="1067.5" x2="1009.8" y2="1090.5" stroke="#000" stroke-width="2.4"/>
<g stroke="#000" stroke-width="3" stroke-linecap="round"><line x1="1009.8" y1="959.82" x2="1009.8" y2="1021.06"/><line x1="1000.4" y1="959.82" x2="1019.2" y2="959.82"/><line x1="1000.4" y1="1021.06" x2="1019.2" y2="1021.06"/></g>
<circle cx="995.3" cy="967.76" r="5.65" fill="#000"/>
<circle cx="1009.8" cy="1025.57" r="5.65" fill="#000"/>
<circle cx="1024.3" cy="976.98" r="5.65" fill="#000"/>
<text transform="translate(1013.2,658.3) rotate(-90)" class="pv">p=0.9994</text>
<text transform="translate(1020.8,1122) rotate(-45)" class="xl" text-anchor="end">I539V</text>
<line x1="1069" y1="1067.5" x2="1069" y2="1090.5" stroke="#000" stroke-width="2.4"/>
<g stroke="#000" stroke-width="3" stroke-linecap="round"><line x1="1069" y1="982.57" x2="1069" y2="1017.09"/><line x1="1059.6" y1="982.57" x2="1078.4" y2="982.57"/><line x1="1059.6" y1="1017.09" x2="1078.4" y2="1017.09"/></g>
<circle cx="1069" cy="980.01" r="5.65" fill="#000"/>
<circle cx="1054.5" cy="1010.29" r="5.65" fill="#000"/>
<circle cx="1083.5" cy="1009.76" r="5.65" fill="#000"/>
<text transform="translate(1072.4,658.3) rotate(-90)" class="pv">p>0.9999</text>
<text transform="translate(1080,1122) rotate(-45)" class="xl" text-anchor="end">I562V</text>
<line x1="1128.2" y1="1067.5" x2="1128.2" y2="1090.5" stroke="#000" stroke-width="2.4"/>
<g stroke="#000" stroke-width="3" stroke-linecap="round"><line x1="1128.2" y1="1013.19" x2="1128.2" y2="1028.94"/><line x1="1118.8" y1="1013.19" x2="1137.6" y2="1013.19"/><line x1="1118.8" y1="1028.94" x2="1137.6" y2="1028.94"/></g>
<circle cx="1128.2" cy="1011.91" r="5.65" fill="#000"/>
<circle cx="1113.7" cy="1027.39" r="5.65" fill="#000"/>
<circle cx="1142.7" cy="1024.23" r="5.65" fill="#000"/>
<text transform="translate(1131.6,658.3) rotate(-90)" class="pv">p=0.9952</text>
<text transform="translate(1139.2,1122) rotate(-45)" class="xl" text-anchor="end">V584I</text>
<line x1="1187.4" y1="1067.5" x2="1187.4" y2="1090.5" stroke="#000" stroke-width="2.4"/>
<g stroke="#000" stroke-width="3" stroke-linecap="round"><line x1="1187.4" y1="877.98" x2="1187.4" y2="942.32"/><line x1="1178" y1="877.98" x2="1196.8" y2="877.98"/><line x1="1178" y1="942.32" x2="1196.8" y2="942.32"/></g>
<circle cx="1187.4" cy="882.96" r="5.65" fill="#000"/>
<circle cx="1187.4" cy="902.41" r="5.65" fill="#000"/>
<circle cx="1187.4" cy="945.96" r="5.65" fill="#000"/>
<text x="1187.4" y="865.3" class="mx" text-anchor="middle">×2.3</text>
<text transform="translate(1190.8,658.3) rotate(-90)" class="pv">p=0.0082</text>
<text transform="translate(1198.4,1122) rotate(-45)" class="xl" text-anchor="end">R589K</text>
<line x1="1246.6" y1="1067.5" x2="1246.6" y2="1090.5" stroke="#000" stroke-width="2.4"/>
<g stroke="#000" stroke-width="3" stroke-linecap="round"><line x1="1246.6" y1="968.23" x2="1246.6" y2="1001.88"/><line x1="1237.2" y1="968.23" x2="1256" y2="968.23"/><line x1="1237.2" y1="1001.88" x2="1256" y2="1001.88"/></g>
<circle cx="1246.6" cy="966.95" r="5.65" fill="#000"/>
<circle cx="1246.6" cy="986.13" r="5.65" fill="#000"/>
<circle cx="1246.6" cy="1001.88" r="5.65" fill="#000"/>
<text transform="translate(1250,658.3) rotate(-90)" class="pv">p=0.9991</text>
<text transform="translate(1257.6,1122) rotate(-45)" class="xl" text-anchor="end">G590C</text>
<line x1="1305.8" y1="1067.5" x2="1305.8" y2="1090.5" stroke="#000" stroke-width="2.4"/>
<g stroke="#000" stroke-width="3" stroke-linecap="round"><line x1="1305.8" y1="901.61" x2="1305.8" y2="942.79"/><line x1="1296.4" y1="901.61" x2="1315.2" y2="901.61"/><line x1="1296.4" y1="942.79" x2="1315.2" y2="942.79"/></g>
<circle cx="1305.8" cy="898.24" r="5.65" fill="#000"/>
<circle cx="1291.3" cy="934.99" r="5.65" fill="#000"/>
<circle cx="1320.3" cy="932.36" r="5.65" fill="#000"/>
<text x="1305.8" y="886.4" class="mx" text-anchor="middle">×2.2</text>
<text transform="translate(1309.2,658.3) rotate(-90)" class="pv">p=0.0335</text>
<text transform="translate(1316.8,1122) rotate(-45)" class="xl" text-anchor="end">Q591R</text>
<line x1="1365" y1="1067.5" x2="1365" y2="1090.5" stroke="#000" stroke-width="2.4"/>
<text transform="translate(1376,1122) rotate(-45)" class="xl" text-anchor="end">E627K</text>
<line x1="1424.2" y1="1067.5" x2="1424.2" y2="1090.5" stroke="#000" stroke-width="2.4"/>
<g stroke="#000" stroke-width="3" stroke-linecap="round"><line x1="1424.2" y1="748.5" x2="1424.2" y2="788.61"/><line x1="1414.8" y1="748.5" x2="1433.6" y2="748.5"/><line x1="1414.8" y1="788.61" x2="1433.6" y2="788.61"/></g>
<circle cx="1424.2" cy="748.5" r="5.65" fill="#000"/>
<circle cx="1424.2" cy="766.67" r="5.65" fill="#000"/>
<circle cx="1424.2" cy="789.55" r="5.65" fill="#000"/>
<text x="1424.2" y="736.6" class="mx" text-anchor="middle">×4.4</text>
<text transform="translate(1427.6,658.3) rotate(-90)" class="pv">p<0.0001</text>
<text transform="translate(1435.2,1122) rotate(-45)" class="xl" text-anchor="end">I647V</text>
<line x1="1483.4" y1="1067.5" x2="1483.4" y2="1090.5" stroke="#000" stroke-width="2.4"/>
<g stroke="#000" stroke-width="3" stroke-linecap="round"><line x1="1483.4" y1="970.12" x2="1483.4" y2="984.65"/><line x1="1474" y1="970.12" x2="1492.8" y2="970.12"/><line x1="1474" y1="984.65" x2="1492.8" y2="984.65"/></g>
<circle cx="1469.2" cy="971.6" r="5.65" fill="#000"/>
<circle cx="1469.2" cy="984.65" r="5.65" fill="#000"/>
<circle cx="1498" cy="975.1" r="5.65" fill="#000"/>
<text transform="translate(1486.8,658.3) rotate(-90)" class="pv">p=0.9940</text>
<text transform="translate(1494.4,1122) rotate(-45)" class="xl" text-anchor="end">K660R</text>
<line x1="1542.6" y1="1067.5" x2="1542.6" y2="1090.5" stroke="#000" stroke-width="2.4"/>
<g stroke="#000" stroke-width="3" stroke-linecap="round"><line x1="1542.6" y1="949.93" x2="1542.6" y2="968.57"/><line x1="1533.2" y1="949.93" x2="1552" y2="949.93"/><line x1="1533.2" y1="968.57" x2="1552" y2="968.57"/></g>
<circle cx="1527.6" cy="950.87" r="5.65" fill="#000"/>
<circle cx="1542.6" cy="968.57" r="5.65" fill="#000"/>
<circle cx="1557.1" cy="957.13" r="5.65" fill="#000"/>
<text transform="translate(1546,658.3) rotate(-90)" class="pv">p=0.6909</text>
<text transform="translate(1553.6,1122) rotate(-45)" class="xl" text-anchor="end">K670R</text>
<line x1="1601.8" y1="1067.5" x2="1601.8" y2="1090.5" stroke="#000" stroke-width="2.4"/>
<g stroke="#000" stroke-width="3" stroke-linecap="round"><line x1="1601.8" y1="961.44" x2="1601.8" y2="982.5"/><line x1="1592.4" y1="961.44" x2="1611.2" y2="961.44"/><line x1="1592.4" y1="982.5" x2="1611.2" y2="982.5"/></g>
<circle cx="1587.3" cy="962.38" r="5.65" fill="#000"/>
<circle cx="1601.8" cy="982.5" r="5.65" fill="#000"/>
<circle cx="1616.3" cy="971.06" r="5.65" fill="#000"/>
<text transform="translate(1605.2,658.3) rotate(-90)" class="pv">p=0.9814</text>
<text transform="translate(1612.8,1122) rotate(-45)" class="xl" text-anchor="end">A676V</text>
<line x1="1661" y1="1067.5" x2="1661" y2="1090.5" stroke="#000" stroke-width="2.4"/>
<g stroke="#000" stroke-width="3" stroke-linecap="round"><line x1="1661" y1="898.24" x2="1661" y2="944.74"/><line x1="1651.6" y1="898.24" x2="1670.4" y2="898.24"/><line x1="1651.6" y1="944.74" x2="1670.4" y2="944.74"/></g>
<circle cx="1661" cy="894.88" r="5.65" fill="#000"/>
<circle cx="1661" cy="927.38" r="5.65" fill="#000"/>
<circle cx="1661" cy="940.1" r="5.65" fill="#000"/>
<text transform="translate(1664.4,658.3) rotate(-90)" class="pv">p=0.0307</text>
<text transform="translate(1672,1122) rotate(-45)" class="xl" text-anchor="end">E677G</text>
<line x1="1720.2" y1="1067.5" x2="1720.2" y2="1090.5" stroke="#000" stroke-width="2.4"/>
<g stroke="#000" stroke-width="3" stroke-linecap="round"><line x1="1720.2" y1="936.67" x2="1720.2" y2="969.11"/><line x1="1710.8" y1="936.67" x2="1729.6" y2="936.67"/><line x1="1710.8" y1="969.11" x2="1729.6" y2="969.11"/></g>
<circle cx="1720.2" cy="935.39" r="5.65" fill="#000"/>
<circle cx="1720.2" cy="955.24" r="5.65" fill="#000"/>
<circle cx="1720.2" cy="968.57" r="5.65" fill="#000"/>
<text transform="translate(1723.6,658.3) rotate(-90)" class="pv">p=0.5044</text>
<text transform="translate(1731.2,1122) rotate(-45)" class="xl" text-anchor="end">E677K</text>
<line x1="1779.4" y1="1067.5" x2="1779.4" y2="1090.5" stroke="#000" stroke-width="2.4"/>
<g stroke="#000" stroke-width="3" stroke-linecap="round"><line x1="1779.4" y1="1035.2" x2="1779.4" y2="1045.09"/><line x1="1770" y1="1035.2" x2="1788.8" y2="1035.2"/><line x1="1770" y1="1045.09" x2="1788.8" y2="1045.09"/></g>
<circle cx="1779.4" cy="1033.65" r="5.65" fill="#000"/>
<circle cx="1764.9" cy="1042.94" r="5.65" fill="#000"/>
<circle cx="1793.9" cy="1041.93" r="5.65" fill="#000"/>
<text transform="translate(1782.8,658.3) rotate(-90)" class="pv">p=0.7714</text>
<text transform="translate(1790.4,1122) rotate(-45)" class="xl" text-anchor="end">E681V</text>
<line x1="1838.6" y1="1067.5" x2="1838.6" y2="1090.5" stroke="#000" stroke-width="2.4"/>
<g stroke="#000" stroke-width="3" stroke-linecap="round"><line x1="1838.6" y1="716.4" x2="1838.6" y2="782.69"/><line x1="1829.2" y1="716.4" x2="1848" y2="716.4"/><line x1="1829.2" y1="782.69" x2="1848" y2="782.69"/></g>
<circle cx="1838.6" cy="712.96" r="5.65" fill="#000"/>
<circle cx="1838.6" cy="755.7" r="5.65" fill="#000"/>
<circle cx="1838.6" cy="778.65" r="5.65" fill="#000"/>
<text x="1838.6" y="702.1" class="mx" text-anchor="middle">×4.7</text>
<text transform="translate(1842,658.3) rotate(-90)" class="pv">p<0.0001</text>
<text transform="translate(1849.6,1122) rotate(-45)" class="xl" text-anchor="end">G685R</text>
<line x1="1897.8" y1="1067.5" x2="1897.8" y2="1090.5" stroke="#000" stroke-width="2.4"/>
<g stroke="#000" stroke-width="3" stroke-linecap="round"><line x1="1897.8" y1="851.47" x2="1897.8" y2="898.91"/><line x1="1888.4" y1="851.47" x2="1907.2" y2="851.47"/><line x1="1888.4" y1="898.91" x2="1907.2" y2="898.91"/></g>
<circle cx="1897.8" cy="854.56" r="5.65" fill="#000"/>
<circle cx="1897.8" cy="870.31" r="5.65" fill="#000"/>
<circle cx="1897.8" cy="900.93" r="5.65" fill="#000"/>
<text x="1897.8" y="838.5" class="mx" text-anchor="middle">×2.9</text>
<text transform="translate(1901.2,658.3) rotate(-90)" class="pv">p<0.0001</text>
<text transform="translate(1908.8,1122) rotate(-45)" class="xl" text-anchor="end">D701N</text>
<line x1="1957" y1="1067.5" x2="1957" y2="1090.5" stroke="#000" stroke-width="2.4"/>
<g stroke="#000" stroke-width="3" stroke-linecap="round"><line x1="1957" y1="866" x2="1957" y2="876.23"/><line x1="1947.6" y1="866" x2="1966.4" y2="866"/><line x1="1947.6" y1="876.23" x2="1966.4" y2="876.23"/></g>
<circle cx="1957" cy="866.27" r="5.65" fill="#000"/>
<circle cx="1942" cy="875.56" r="5.65" fill="#000"/>
<circle cx="1971.8" cy="872.46" r="5.65" fill="#000"/>
<text x="1957" y="847.8" class="mx" text-anchor="middle">×2.9</text>
<text transform="translate(1960.4,658.3) rotate(-90)" class="pv">p<0.0001</text>
<text transform="translate(1968,1122) rotate(-45)" class="xl" text-anchor="end">D740N</text>
<rect x="1345" y="663.7" width="40" height="403.8" fill="#d52628"/>
<rect x="1345" y="594.1" width="40" height="30.7" fill="#d52628"/>
<g stroke="#000" stroke-width="3" stroke-linecap="round"><line x1="1365" y1="579.9" x2="1365" y2="609"/><line x1="1355.6" y1="579.9" x2="1374.4" y2="579.9"/><line x1="1355.6" y1="609" x2="1374.4" y2="609"/></g>
<circle cx="1364.6" cy="576.4" r="5.65" fill="#000"/>
<circle cx="1350.4" cy="603.5" r="5.65" fill="#000"/>
<circle cx="1379.3" cy="601.9" r="5.65" fill="#000"/>
<text x="1365" y="569.6" class="mx" text-anchor="middle">×19.2</text>
<text x="1364" y="549.6" class="mx" text-anchor="middle">p&lt;0.0001</text>
<line x1="141.75" y1="549.3" x2="141.75" y2="625.6" stroke="#000" stroke-width="2.3"/>
<line x1="141.75" y1="660.2" x2="141.75" y2="1071" stroke="#000" stroke-width="2.3"/>
<line x1="128" y1="613" x2="155.5" y2="640.5" stroke="#000" stroke-width="2.3"/>
<line x1="128" y1="647.3" x2="155.5" y2="674.1" stroke="#000" stroke-width="2.3"/>
<line x1="118.6" y1="552.8" x2="141.75" y2="552.8" stroke="#000" stroke-width="2.3"/>
<line x1="118.6" y1="797.9" x2="141.75" y2="797.9" stroke="#000" stroke-width="2.3"/>
<line x1="118.6" y1="932.7" x2="141.75" y2="932.7" stroke="#000" stroke-width="2.3"/>
<line x1="118.6" y1="1067.5" x2="141.75" y2="1067.5" stroke="#000" stroke-width="2.3"/>
<text x="114.5" y="566.2" class="yl" text-anchor="end">25</text>
<text x="114.5" y="637.4" class="yl" text-anchor="end">15</text>
<text x="114.5" y="675.6" class="yl" text-anchor="end">6</text>
<text x="114.5" y="811.3" class="yl" text-anchor="end">4</text>
<text x="114.5" y="946.1" class="yl" text-anchor="end">2</text>
<text x="114.5" y="1080.9" class="yl" text-anchor="end">0</text>
<text transform="translate(49.2,1044) rotate(-90)" class="yt">Relative polymerase activity</text>
<text x="1" y="1285.2" class="lab">D</text>
<text x="508.9" y="1293.3" class="ttl" text-anchor="middle">Nonhuman mammal-related mutations</text>
<line x1="161.7" y1="1753.8" x2="856" y2="1753.8" stroke="#d9dbda" stroke-width="2.8" stroke-dasharray="8.2,7.3" stroke-linecap="round"/>
<rect x="242.42" y="1753.8" width="41" height="64.4" fill="#d4d4d4"/>
<rect x="303.34" y="1778.21" width="41" height="39.99" fill="#d4d4d4"/>
<rect x="364.26" y="1787.67" width="41" height="30.53" fill="#d4d4d4"/>
<rect x="425.18" y="1750.84" width="41" height="67.36" fill="#d4d4d4"/>
<rect x="486.1" y="1753.99" width="41" height="64.21" fill="#d4d4d4"/>
<rect x="547.02" y="1772.93" width="41" height="45.27" fill="#d4d4d4"/>
<rect x="607.94" y="1816.14" width="41" height="2.06" fill="#d4d4d4"/>
<rect x="668.86" y="1719.28" width="41" height="98.92" fill="#d4d4d4"/>
<rect x="729.78" y="1783.87" width="41" height="34.33" fill="#d4d4d4"/>
<rect x="790.7" y="1636.59" width="41" height="181.61" fill="#d52628"/>
<line x1="139.1" y1="1818.2" x2="856" y2="1818.2" stroke="#000" stroke-width="2.5"/>
<line x1="202" y1="1818.2" x2="202" y2="1841.2" stroke="#000" stroke-width="2.4"/>
<circle cx="187.2" cy="1818.2" r="5.65" fill="#000"/>
<circle cx="202" cy="1818.2" r="5.65" fill="#000"/>
<circle cx="217" cy="1818.2" r="5.65" fill="#000"/>
<text transform="translate(214,1872.2) rotate(-45)" class="xl" text-anchor="end">EV</text>
<line x1="262.92" y1="1818.2" x2="262.92" y2="1841.2" stroke="#000" stroke-width="2.4"/>
<circle cx="248.22" cy="1753.8" r="5.65" fill="#000"/>
<circle cx="262.92" cy="1753.8" r="5.65" fill="#000"/>
<circle cx="278.12" cy="1753.8" r="5.65" fill="#000"/>
<text transform="translate(274.92,1872.2) rotate(-45)" class="xl" text-anchor="end">WT</text>
<line x1="323.84" y1="1818.2" x2="323.84" y2="1841.2" stroke="#000" stroke-width="2.4"/>
<g stroke="#000" stroke-width="3" stroke-linecap="round"><line x1="323.84" y1="1772.93" x2="323.84" y2="1778.21"/><line x1="314.44" y1="1772.93" x2="333.24" y2="1772.93"/><line x1="314.44" y1="1778.21" x2="333.24" y2="1778.21"/></g>
<circle cx="309.64" cy="1778.21" r="5.65" fill="#000"/>
<circle cx="324.74" cy="1773.31" r="5.65" fill="#000"/>
<circle cx="340.04" cy="1775.05" r="5.65" fill="#000"/>
<text transform="translate(327.24,1454.4) rotate(-90)" class="pv">p=0.1013</text>
<text transform="translate(335.84,1872.2) rotate(-45)" class="xl" text-anchor="end">I4M</text>
<line x1="384.76" y1="1818.2" x2="384.76" y2="1841.2" stroke="#000" stroke-width="2.4"/>
<g stroke="#000" stroke-width="3" stroke-linecap="round"><line x1="384.76" y1="1777.18" x2="384.76" y2="1797.79"/><line x1="375.36" y1="1777.18" x2="394.16" y2="1777.18"/><line x1="375.36" y1="1797.79" x2="394.16" y2="1797.79"/></g>
<circle cx="384.76" cy="1775.05" r="5.65" fill="#000"/>
<circle cx="369.66" cy="1793.99" r="5.65" fill="#000"/>
<circle cx="400.06" cy="1792.31" r="5.65" fill="#000"/>
<text transform="translate(388.16,1454.4) rotate(-90)" class="pv">p=0.0048</text>
<text transform="translate(396.76,1872.2) rotate(-45)" class="xl" text-anchor="end">E249G</text>
<line x1="445.68" y1="1818.2" x2="445.68" y2="1841.2" stroke="#000" stroke-width="2.4"/>
<g stroke="#000" stroke-width="3" stroke-linecap="round"><line x1="445.68" y1="1740.28" x2="445.68" y2="1760.69"/><line x1="436.28" y1="1740.28" x2="455.08" y2="1740.28"/><line x1="436.28" y1="1760.69" x2="455.08" y2="1760.69"/></g>
<circle cx="445.68" cy="1738.6" r="5.65" fill="#000"/>
<circle cx="431.38" cy="1757.08" r="5.65" fill="#000"/>
<circle cx="461.88" cy="1755.02" r="5.65" fill="#000"/>
<text transform="translate(449.08,1454.4) rotate(-90)" class="pv">p=0.9994</text>
<text transform="translate(457.68,1872.2) rotate(-45)" class="xl" text-anchor="end">N441S</text>
<line x1="506.6" y1="1818.2" x2="506.6" y2="1841.2" stroke="#000" stroke-width="2.4"/>
<g stroke="#000" stroke-width="3" stroke-linecap="round"><line x1="506.6" y1="1746.01" x2="506.6" y2="1759.27"/><line x1="497.2" y1="1746.01" x2="516" y2="1746.01"/><line x1="497.2" y1="1759.27" x2="516" y2="1759.27"/></g>
<circle cx="506.6" cy="1744.53" r="5.65" fill="#000"/>
<circle cx="491.5" cy="1757.08" r="5.65" fill="#000"/>
<circle cx="522.4" cy="1756.05" r="5.65" fill="#000"/>
<text transform="translate(510,1454.4) rotate(-90)" class="pv">p=0.9998</text>
<text transform="translate(518.6,1872.2) rotate(-45)" class="xl" text-anchor="end">I539V</text>
<line x1="567.52" y1="1818.2" x2="567.52" y2="1841.2" stroke="#000" stroke-width="2.4"/>
<g stroke="#000" stroke-width="3" stroke-linecap="round"><line x1="567.52" y1="1758.76" x2="567.52" y2="1787.03"/><line x1="558.12" y1="1758.76" x2="576.92" y2="1758.76"/><line x1="558.12" y1="1787.03" x2="576.92" y2="1787.03"/></g>
<circle cx="552.82" cy="1763.46" r="5.65" fill="#000"/>
<circle cx="567.52" cy="1789.8" r="5.65" fill="#000"/>
<circle cx="583.22" cy="1766.62" r="5.65" fill="#000"/>
<text transform="translate(570.92,1454.4) rotate(-90)" class="pv">p=0.1913</text>
<text transform="translate(579.52,1872.2) rotate(-45)" class="xl" text-anchor="end">T559A</text>
<line x1="628.44" y1="1818.2" x2="628.44" y2="1841.2" stroke="#000" stroke-width="2.4"/>
<g stroke="#000" stroke-width="3" stroke-linecap="round"><line x1="628.44" y1="1814.34" x2="628.44" y2="1815.95"/><line x1="619.04" y1="1814.34" x2="637.84" y2="1814.34"/><line x1="619.04" y1="1815.95" x2="637.84" y2="1815.95"/></g>
<circle cx="613.54" cy="1815.11" r="5.65" fill="#000"/>
<circle cx="628.44" cy="1811.95" r="5.65" fill="#000"/>
<circle cx="644.44" cy="1813.43" r="5.65" fill="#000"/>
<text transform="translate(631.84,1454.4) rotate(-90)" class="pv">p<0.0001</text>
<text transform="translate(640.44,1872.2) rotate(-45)" class="xl" text-anchor="end">V596A</text>
<line x1="689.36" y1="1818.2" x2="689.36" y2="1841.2" stroke="#000" stroke-width="2.4"/>
<g stroke="#000" stroke-width="3" stroke-linecap="round"><line x1="689.36" y1="1712.91" x2="689.36" y2="1726.11"/><line x1="679.96" y1="1712.91" x2="698.76" y2="1712.91"/><line x1="679.96" y1="1726.11" x2="698.76" y2="1726.11"/></g>
<circle cx="689.36" cy="1710.39" r="5.65" fill="#000"/>
<circle cx="674.66" cy="1722.89" r="5.65" fill="#000"/>
<circle cx="705.16" cy="1722.89" r="5.65" fill="#000"/>
<text transform="translate(692.76,1454.4) rotate(-90)" class="pv">p=0.0032</text>
<text transform="translate(701.36,1872.2) rotate(-45)" class="xl" text-anchor="end">A676V</text>
<line x1="750.28" y1="1818.2" x2="750.28" y2="1841.2" stroke="#000" stroke-width="2.4"/>
<g stroke="#000" stroke-width="3" stroke-linecap="round"><line x1="750.28" y1="1776.73" x2="750.28" y2="1790.44"/><line x1="740.88" y1="1776.73" x2="759.68" y2="1776.73"/><line x1="740.88" y1="1790.44" x2="759.68" y2="1790.44"/></g>
<circle cx="735.58" cy="1775.63" r="5.65" fill="#000"/>
<circle cx="735.58" cy="1789.8" r="5.65" fill="#000"/>
<circle cx="765.58" cy="1786.19" r="5.65" fill="#000"/>
<text transform="translate(753.68,1454.4) rotate(-90)" class="pv">p=0.0132</text>
<text transform="translate(762.28,1872.2) rotate(-45)" class="xl" text-anchor="end">V686M</text>
<line x1="811.2" y1="1818.2" x2="811.2" y2="1841.2" stroke="#000" stroke-width="2.4"/>
<g stroke="#000" stroke-width="3" stroke-linecap="round"><line x1="811.2" y1="1611.73" x2="811.2" y2="1661.9"/><line x1="801.8" y1="1611.73" x2="820.6" y2="1611.73"/><line x1="801.8" y1="1661.9" x2="820.6" y2="1661.9"/></g>
<circle cx="811.2" cy="1615.53" r="5.65" fill="#000"/>
<circle cx="811.2" cy="1630.67" r="5.65" fill="#000"/>
<circle cx="811.2" cy="1664.35" r="5.65" fill="#000"/>
<text x="811.2" y="1602" class="mx" text-anchor="middle">×2.8</text>
<text transform="translate(814.6,1454.4) rotate(-90)" class="pv">p<0.0001</text>
<text transform="translate(823.2,1872.2) rotate(-45)" class="xl" text-anchor="end">K736R</text>
<line x1="161.7" y1="1300.5" x2="161.7" y2="1821" stroke="#000" stroke-width="2.3"/>
<line x1="139.1" y1="1303.0" x2="161.7" y2="1303.0" stroke="#000" stroke-width="2.3"/>
<text x="134.2" y="1316.4" class="yl" text-anchor="end">8</text>
<line x1="139.1" y1="1431.8" x2="161.7" y2="1431.8" stroke="#000" stroke-width="2.3"/>
<text x="134.2" y="1445.2" class="yl" text-anchor="end">6</text>
<line x1="139.1" y1="1560.6" x2="161.7" y2="1560.6" stroke="#000" stroke-width="2.3"/>
<text x="134.2" y="1574" class="yl" text-anchor="end">4</text>
<line x1="139.1" y1="1689.4" x2="161.7" y2="1689.4" stroke="#000" stroke-width="2.3"/>
<text x="134.2" y="1702.8" class="yl" text-anchor="end">2</text>
<line x1="139.1" y1="1818.2" x2="161.7" y2="1818.2" stroke="#000" stroke-width="2.3"/>
<text x="134.2" y="1831.6" class="yl" text-anchor="end">0</text>
<text transform="translate(87.1,1791.7) rotate(-90)" class="yt">Relative polymerase activity</text>
<text x="1245" y="1283" class="lab">E</text>
<text x="1669.9" y="1292.5" class="ttl" text-anchor="middle">Human-related mutations</text>
<line x1="1387.6" y1="1753.8" x2="1957.3" y2="1753.8" stroke="#d9dbda" stroke-width="2.8" stroke-dasharray="8.2,7.3" stroke-linecap="round"/>
<rect x="1467.55" y="1753.8" width="40.5" height="64.4" fill="#d4d4d4"/>
<rect x="1528.25" y="1773.38" width="40.5" height="44.82" fill="#d4d4d4"/>
<rect x="1588.95" y="1803.65" width="40.5" height="14.55" fill="#d4d4d4"/>
<rect x="1649.65" y="1556.09" width="40.5" height="262.11" fill="#d52628"/>
<rect x="1710.35" y="1780.2" width="40.5" height="38" fill="#d4d4d4"/>
<rect x="1771.05" y="1816.27" width="40.5" height="1.93" fill="#d4d4d4"/>
<rect x="1831.75" y="1728.81" width="40.5" height="89.39" fill="#d4d4d4"/>
<rect x="1892.45" y="1421.17" width="40.5" height="397.03" fill="#d52628"/>
<line x1="1363" y1="1818.2" x2="1957.3" y2="1818.2" stroke="#000" stroke-width="2.5"/>
<line x1="1427.1" y1="1818.2" x2="1427.1" y2="1841.2" stroke="#000" stroke-width="2.4"/>
<circle cx="1412.4" cy="1818.2" r="5.65" fill="#000"/>
<circle cx="1427.1" cy="1818.2" r="5.65" fill="#000"/>
<circle cx="1442" cy="1818.2" r="5.65" fill="#000"/>
<text transform="translate(1439.1,1872.2) rotate(-45)" class="xl" text-anchor="end">EV</text>
<line x1="1487.8" y1="1818.2" x2="1487.8" y2="1841.2" stroke="#000" stroke-width="2.4"/>
<circle cx="1473.3" cy="1753.8" r="5.65" fill="#000"/>
<circle cx="1487.8" cy="1753.8" r="5.65" fill="#000"/>
<circle cx="1503" cy="1753.8" r="5.65" fill="#000"/>
<text transform="translate(1499.8,1872.2) rotate(-45)" class="xl" text-anchor="end">WT</text>
<line x1="1548.5" y1="1818.2" x2="1548.5" y2="1841.2" stroke="#000" stroke-width="2.4"/>
<g stroke="#000" stroke-width="3" stroke-linecap="round"><line x1="1548.5" y1="1761.66" x2="1548.5" y2="1784.39"/><line x1="1539.1" y1="1761.66" x2="1557.9" y2="1761.66"/><line x1="1539.1" y1="1784.39" x2="1557.9" y2="1784.39"/></g>
<circle cx="1548.5" cy="1759.34" r="5.65" fill="#000"/>
<circle cx="1534" cy="1782.65" r="5.65" fill="#000"/>
<circle cx="1563.9" cy="1776.53" r="5.65" fill="#000"/>
<text transform="translate(1551.9,1453.6) rotate(-90)" class="pv">p=0.5968</text>
<text transform="translate(1560.5,1872.2) rotate(-45)" class="xl" text-anchor="end">A58T</text>
<line x1="1609.2" y1="1818.2" x2="1609.2" y2="1841.2" stroke="#000" stroke-width="2.4"/>
<g stroke="#000" stroke-width="3" stroke-linecap="round"><line x1="1609.2" y1="1799.27" x2="1609.2" y2="1806.29"/><line x1="1599.8" y1="1799.27" x2="1618.6" y2="1799.27"/><line x1="1599.8" y1="1806.29" x2="1618.6" y2="1806.29"/></g>
<circle cx="1610" cy="1800.17" r="5.65" fill="#000"/>
<circle cx="1594.8" cy="1807.12" r="5.65" fill="#000"/>
<circle cx="1624.9" cy="1801.91" r="5.65" fill="#000"/>
<text transform="translate(1612.6,1453.6) rotate(-90)" class="pv">p=0.0095</text>
<text transform="translate(1621.2,1872.2) rotate(-45)" class="xl" text-anchor="end">E249G</text>
<line x1="1669.9" y1="1818.2" x2="1669.9" y2="1841.2" stroke="#000" stroke-width="2.4"/>
<g stroke="#000" stroke-width="3" stroke-linecap="round"><line x1="1669.9" y1="1523.7" x2="1669.9" y2="1589"/><line x1="1660.5" y1="1523.7" x2="1679.3" y2="1523.7"/><line x1="1660.5" y1="1589" x2="1679.3" y2="1589"/></g>
<circle cx="1669.9" cy="1521.96" r="5.65" fill="#000"/>
<circle cx="1669.9" cy="1559.63" r="5.65" fill="#000"/>
<circle cx="1669.9" cy="1587.65" r="5.65" fill="#000"/>
<text x="1669.9" y="1507.3" class="mx" text-anchor="middle">×4.1</text>
<text transform="translate(1673.3,1453.6) rotate(-90)" class="pv">p<0.0001</text>
<text transform="translate(1681.9,1872.2) rotate(-45)" class="xl" text-anchor="end">G362E</text>
<line x1="1730.6" y1="1818.2" x2="1730.6" y2="1841.2" stroke="#000" stroke-width="2.4"/>
<g stroke="#000" stroke-width="3" stroke-linecap="round"><line x1="1730.6" y1="1774.34" x2="1730.6" y2="1785.03"/><line x1="1721.2" y1="1774.34" x2="1740" y2="1774.34"/><line x1="1721.2" y1="1785.03" x2="1740" y2="1785.03"/></g>
<circle cx="1730.6" cy="1776.21" r="5.65" fill="#000"/>
<circle cx="1715.3" cy="1785.03" r="5.65" fill="#000"/>
<circle cx="1745.8" cy="1778.08" r="5.65" fill="#000"/>
<text transform="translate(1734,1453.6) rotate(-90)" class="pv">p=0.2828</text>
<text transform="translate(1742.6,1872.2) rotate(-45)" class="xl" text-anchor="end">I562V</text>
<line x1="1791.3" y1="1818.2" x2="1791.3" y2="1841.2" stroke="#000" stroke-width="2.4"/>
<g stroke="#000" stroke-width="3" stroke-linecap="round"><line x1="1791.3" y1="1814.34" x2="1791.3" y2="1816.91"/><line x1="1781.9" y1="1814.34" x2="1800.7" y2="1814.34"/><line x1="1781.9" y1="1816.91" x2="1800.7" y2="1816.91"/></g>
<circle cx="1776.6" cy="1818.2" r="5.65" fill="#000"/>
<circle cx="1791.3" cy="1814.21" r="5.65" fill="#000"/>
<circle cx="1806" cy="1816.27" r="5.65" fill="#000"/>
<text transform="translate(1794.7,1453.6) rotate(-90)" class="pv">p=0.0010</text>
<text transform="translate(1803.3,1872.2) rotate(-45)" class="xl" text-anchor="end">L631M</text>
<line x1="1852" y1="1818.2" x2="1852" y2="1841.2" stroke="#000" stroke-width="2.4"/>
<g stroke="#000" stroke-width="3" stroke-linecap="round"><line x1="1852" y1="1721.34" x2="1852" y2="1736.86"/><line x1="1842.6" y1="1721.34" x2="1861.4" y2="1721.34"/><line x1="1842.6" y1="1736.86" x2="1861.4" y2="1736.86"/></g>
<circle cx="1837.3" cy="1721.34" r="5.65" fill="#000"/>
<circle cx="1837.3" cy="1737.38" r="5.65" fill="#000"/>
<circle cx="1867.2" cy="1728.04" r="5.65" fill="#000"/>
<text transform="translate(1855.4,1453.6) rotate(-90)" class="pv">p=0.3038</text>
<text transform="translate(1864,1872.2) rotate(-45)" class="xl" text-anchor="end">K670R</text>
<line x1="1912.7" y1="1818.2" x2="1912.7" y2="1841.2" stroke="#000" stroke-width="2.4"/>
<g stroke="#000" stroke-width="3" stroke-linecap="round"><line x1="1912.7" y1="1389.04" x2="1912.7" y2="1452.47"/><line x1="1903.3" y1="1389.04" x2="1922.1" y2="1389.04"/><line x1="1903.3" y1="1452.47" x2="1922.1" y2="1452.47"/></g>
<circle cx="1898" cy="1398.38" r="5.65" fill="#000"/>
<circle cx="1928" cy="1406.94" r="5.65" fill="#000"/>
<circle cx="1912.7" cy="1457.82" r="5.65" fill="#000"/>
<text x="1912.7" y="1374.8" class="mx" text-anchor="middle">×6.2</text>
<text transform="translate(1924.7,1872.2) rotate(-45)" class="xl" text-anchor="end">E627K+L631M</text>
<line x1="1387.6" y1="1300.5" x2="1387.6" y2="1821" stroke="#000" stroke-width="2.3"/>
<line x1="1363" y1="1303.0" x2="1387.6" y2="1303.0" stroke="#000" stroke-width="2.3"/>
<text x="1358.8" y="1316.4" class="yl" text-anchor="end">8</text>
<line x1="1363" y1="1431.8" x2="1387.6" y2="1431.8" stroke="#000" stroke-width="2.3"/>
<text x="1358.8" y="1445.2" class="yl" text-anchor="end">6</text>
<line x1="1363" y1="1560.6" x2="1387.6" y2="1560.6" stroke="#000" stroke-width="2.3"/>
<text x="1358.8" y="1574" class="yl" text-anchor="end">4</text>
<line x1="1363" y1="1689.4" x2="1387.6" y2="1689.4" stroke="#000" stroke-width="2.3"/>
<text x="1358.8" y="1702.8" class="yl" text-anchor="end">2</text>
<line x1="1363" y1="1818.2" x2="1387.6" y2="1818.2" stroke="#000" stroke-width="2.3"/>
<text x="1358.8" y="1831.6" class="yl" text-anchor="end">0</text>
<text x="1912.7" y="1354.8" class="mx" text-anchor="middle">p&lt;0.0001</text>
<text transform="translate(1313.8,1794) rotate(-90)" class="yt">Relative polymerase activity</text>
</svg></body></html>
